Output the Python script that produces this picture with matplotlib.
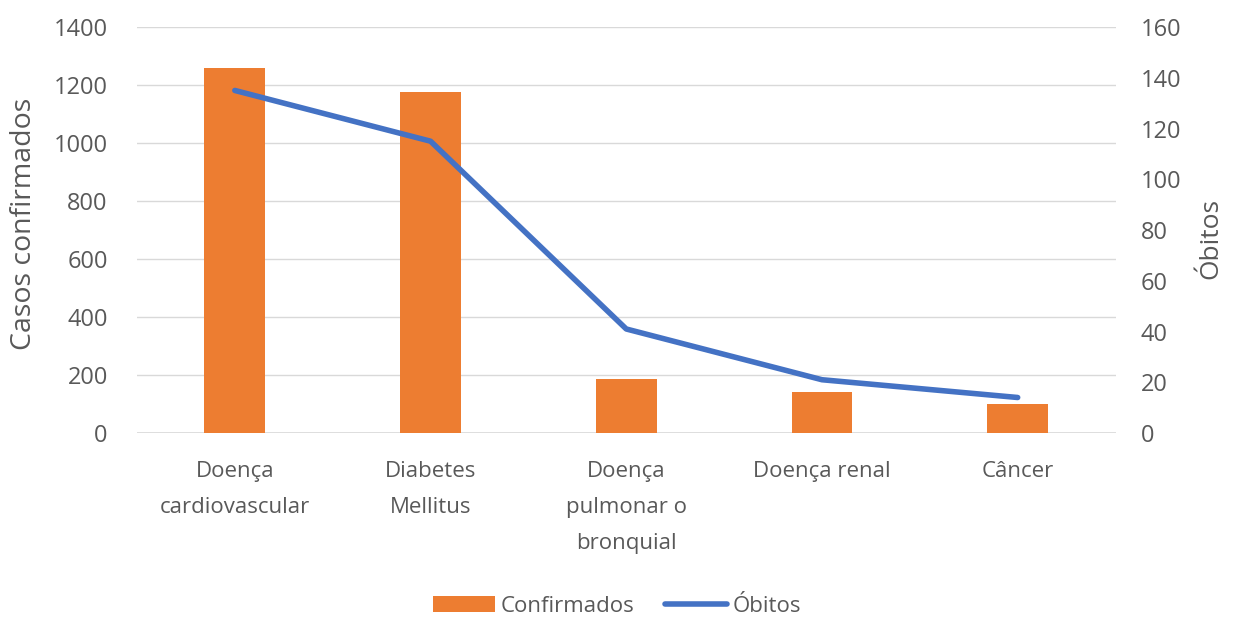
import matplotlib.pyplot as plt
import numpy as np

plt.rcParams['font.family'] = ['Open Sans', 'DejaVu Sans']

# dados
categorias = ['Doença\ncardiovascular', 'Diabetes\nMellitus', 'Doença\npulmonar o\nbronquial',
              'Doença renal', 'Câncer']
confirmados = [1260, 1175, 185, 142, 100]
obitos = [135, 115, 41, 21, 14]

cinza = '#595959'
laranja = '#ED7D31'
azul = '#4472C4'

fig = plt.figure(figsize=(12.34, 6.21), dpi=100)
ax = fig.add_axes([0.111, 0.3027, 0.793, 0.6538])
ax2 = ax.twinx()

x = np.arange(len(categorias))
barras = ax.bar(x, confirmados, width=0.31, color=laranja, zorder=2, label='Confirmados')
linha, = ax2.plot(x, obitos, color=azul, linewidth=4, solid_capstyle='round', zorder=3, label='Óbitos')

ax.set_xlim(-0.5, len(categorias) - 0.5)
ax.set_ylim(0, 1400)
ax.set_yticks(np.arange(0, 1401, 200))
ax2.set_ylim(0, 160)
ax2.set_yticks(np.arange(0, 161, 20))

ax.yaxis.grid(True, color='#d9d9d9', linewidth=1, zorder=0)
ax.set_axisbelow(True)

for a in (ax, ax2):
    for s in ['top', 'left', 'right', 'bottom']:
        a.spines[s].set_visible(False)
    a.tick_params(axis='both', length=0, labelsize=17, colors=cinza)

ax.tick_params(axis='y', pad=21)
ax2.tick_params(axis='y', pad=18)

ax.axhline(0, color='#d9d9d9', linewidth=1.2, zorder=1)
ax.set_xticks(x)
ax.set_xticklabels(categorias, linespacing=1.95, fontsize=16)
ax.tick_params(axis='x', pad=20)

ax.set_ylabel('Casos confirmados', fontsize=20.5, color=cinza)
ax2.set_ylabel('Óbitos', fontsize=19, color=cinza)
ax.yaxis.set_label_coords(-0.101, 0.515)
ax2.yaxis.set_label_coords(1.085, 0.48)

fig.legend([barras, linha], ['Confirmados', 'Óbitos'], loc='center', bbox_to_anchor=(0.5, 0.024),
           ncol=2, frameon=False, fontsize=16, labelcolor=cinza, handlelength=2.8,
           handletextpad=0.27, columnspacing=1.35)

fig.savefig('out.png', dpi=100)
